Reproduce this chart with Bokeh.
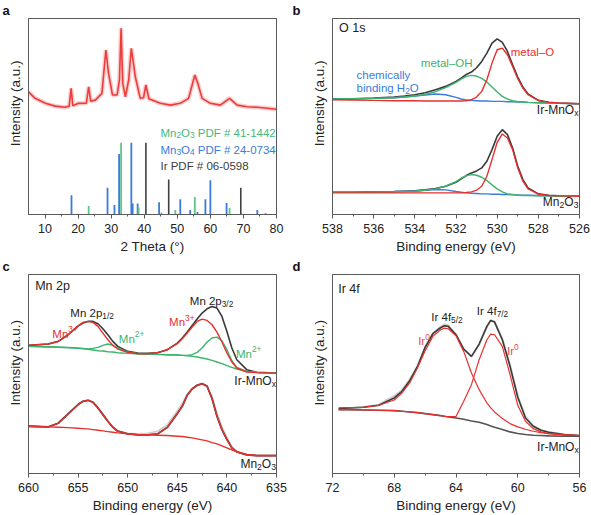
import re
from bokeh.plotting import figure
from bokeh.models import Range1d, FixedTicker, Label, LinearAxis
from bokeh.layouts import column, row
from bokeh.embed import file_html
from bokeh.resources import INLINE

# ---------------- data: panel a (XRD) ----------------
xrd_2theta = [5.0, 7.0, 10.1, 13.1, 16.1, 17.3, 17.9, 18.4, 20.1, 22.5, 23.2, 23.8, 25.2, 27.2,
              28.4, 29.2, 30.4, 31.8, 32.5, 33.0, 33.5, 34.3, 35.3, 36.1, 37.3, 38.8, 39.8,
              40.5, 41.4, 44.9, 47.9, 50.9, 53.4, 54.5, 55.3, 56.2, 57.5, 60.0, 63.0, 65.8,
              68.1, 71.1, 74.2, 77.2, 80.0]
xrd_intensity = [61.5, 58.2, 55.7, 54.3, 53.7, 54.3, 63.2, 54.5, 55.7, 55.8, 64.0, 56.8, 57.3, 60.7,
                 82.4, 70.7, 59.9, 59.9, 67.4, 93.3, 65.7, 59.0, 67.4, 83.3, 69.0, 58.2, 58.5,
                 64.9, 58.0, 55.7, 54.8, 55.7, 58.2, 64.9, 69.9, 65.7, 58.2, 55.7, 54.8, 58.2,
                 54.8, 54.0, 53.7, 53.2, 52.7]
mn3o4_pos = [18.0, 28.9, 31.0, 32.4, 36.1, 36.5, 38.0, 44.5, 50.9, 53.9, 56.1, 58.5, 60.0, 64.9, 74.2, 76.7]
mn3o4_h = [9.7, 13.4, 4.7, 30.3, 36.0, 5.5, 5.5, 6.2, 7.7, 2.2, 1.3, 7.7, 17.2, 5.8, 2.2, 0.6]
mn2o3_pos = [23.2, 33.0, 38.3, 45.2, 49.4, 55.3, 65.8]
mn2o3_h = [4.2, 36.0, 3.5, 1.0, 2.2, 8.8, 3.3]
ir_pos = [40.5, 47.4, 69.2]
ir_h = [36.0, 17.5, 13.4]

# ---------------- data: panel b (O 1s) ----------------
b_ev = [538, 537, 536, 535, 534.5, 534, 533.5, 533, 532.5, 532, 531.75, 531.5, 531.25, 531,
        530.75, 530.5, 530.25, 530, 529.75, 529.5, 529.25, 529, 528.75, 528.5, 528, 527.5, 527, 526]
b_ir_env = [347, 348, 350, 353, 356, 360, 366, 375, 385, 400, 410, 421, 428, 441, 460, 485, 515, 528,
            517, 490, 450, 413, 383, 362, 343, 337, 335, 333]
b_ir_mo = [345, 344, 343, 342, 342, 342, 341, 341, 341, 341, 341, 342, 345, 353, 370, 405, 455, 495,
           500, 480, 445, 408, 380, 360, 343, 337, 335, 333]
b_ir_moh = [347, 348, 349, 351, 353, 356, 361, 369, 381, 397, 407, 415, 418, 416, 409, 398, 383, 368,
            355, 347, 342, 339, 338, 337, 336, 335, 334, 333]
b_ir_h2o = [347, 348, 349, 351, 353, 356, 359, 362, 360, 352, 347, 344, 343, 342, 341, 341, 340, 340,
            340, 339, 339, 338, 338, 337, 336, 335, 334, 333]
b_mn_env = [67, 67, 68, 69, 70, 71, 74, 78, 85, 97, 107, 117, 125, 131, 140, 160, 195, 235, 255, 240,
            200, 145, 105, 80, 62, 58, 56, 55]
b_mn_mo = [65, 65, 65, 65, 65, 65, 65, 65, 65, 65, 65, 66, 68, 73, 85, 115, 165, 217, 242, 230, 195,
           140, 100, 77, 61, 57, 56, 55]
b_mn_moh = [67, 67, 67, 68, 69, 70, 73, 77, 85, 99, 109, 117, 120, 118, 112, 102, 89, 77, 68, 62, 60,
            58, 57, 57, 56, 56, 55, 55]
b_mn_h2o = [67, 67, 68, 69, 70, 71, 73, 75, 74, 69, 67, 65, 64, 63, 62, 62, 61, 61, 60, 60, 59, 59,
            58, 58, 57, 56, 56, 55]

# ---------------- data: panel c (Mn 2p) ----------------
c_ev = [660, 658, 657, 656, 655, 654.5, 654, 653.5, 653, 652.5, 652, 651.5, 651, 650, 649, 648, 647,
        646, 645, 644.5, 644, 643.5, 643, 642.5, 642, 641.5, 641, 640.5, 640, 639.5, 639, 638, 637, 635]
c_ir_env = [384, 388, 396, 416, 442, 451, 456, 456, 449, 434, 416, 396, 381, 366, 361, 360, 362, 371,
            391, 406, 424, 444, 463, 481, 494, 501, 496, 471, 426, 376, 341, 311, 303, 301]
c_ir_mn3 = [384, 388, 396, 416, 443, 453, 456, 453, 441, 421, 401, 384, 373, 363, 359, 359, 362, 371,
            389, 404, 421, 439, 456, 463, 459, 446, 424, 394, 361, 334, 316, 304, 302, 301]
c_ir_mn2 = [381, 380, 379, 378, 376, 375, 373, 375, 378, 384, 388, 384, 376, 364, 359, 358, 357, 356,
            355, 354, 354, 356, 363, 376, 394, 406, 409, 398, 371, 338, 318, 306, 303, 301]
c_ir_bg = [381, 379, 378, 377, 375, 374, 372, 370, 368, 367, 365, 364, 362, 360, 359, 358, 357, 356,
           355, 354, 353, 351, 349, 346, 343, 339, 334, 329, 323, 318, 313, 306, 303, 301]
c_mn_env = [141, 139, 150, 178, 206, 216, 219, 213, 196, 176, 156, 138, 126, 118, 115, 115, 118, 138,
            179, 201, 234, 253, 264, 269, 262, 224, 171, 131, 101, 76, 64, 55, 53, 53]
c_mn_raw = [141, 139, 151, 180, 207, 217, 220, 214, 198, 178, 157, 139, 127, 120, 118, 120, 126, 146,
            188, 210, 238, 255, 265, 268, 258, 232, 180, 140, 108, 80, 66, 56, 53, 53]
c_mn_bg = [141, 139, 138, 137, 135, 134, 133, 131, 129, 127, 125, 123, 121, 118, 116, 115, 114, 113,
           111, 110, 108, 106, 103, 100, 97, 92, 88, 82, 76, 70, 64, 56, 53, 53]

# ---------------- data: panel d (Ir 4f) ----------------
d_ev = [71.6, 71, 70, 69, 68, 67.5, 67, 66.5, 66, 65.5, 65, 64.75, 64.5, 64, 63.5, 63, 62.5, 62,
        61.75, 61.5, 61, 60.5, 60, 59.5, 59, 58.5, 58, 57, 56]
d_env = [194, 196, 198, 204, 226, 246, 278, 320, 378, 419, 437, 443, 441, 416, 373, 351, 388, 441,
         459, 454, 401, 321, 228, 166, 141, 129, 123, 116, 113]
d_raw = [192, 195, 199, 206, 232, 250, 281, 322, 378, 420, 440, 447, 444, 417, 372, 350, 386, 440,
         460, 455, 404, 325, 232, 170, 143, 130, 124, 116, 112]
d_ir52 = [196, 197, 198, 204, 220, 241, 271, 316, 368, 411, 431, 436, 434, 413, 366, 301, 251, 211,
          196, 184, 164, 149, 139, 132, 126, 122, 119, 115, 113]
d_ir72 = [191, 191, 190, 189, 188, 186, 184, 182, 179, 176, 173, 171, 170, 170, 216, 266, 341, 401,
          418, 416, 381, 296, 204, 156, 134, 124, 119, 115, 113]
d_bg = [191, 191, 190, 189, 188, 186, 184, 182, 179, 176, 173, 171, 169, 166, 162, 157, 153, 146,
        142, 138, 131, 124, 119, 116, 114, 113, 112, 111, 111]

# ---------------- style ----------------
FONT = "Liberation Sans"
RED = "#e8302e"
GREEN = "#3cb46c"
BLUE = "#3b7bdc"
DARK = "#3a3a3a"
RAW = "#cfcfcf"
FRAME = "#5a5a5a"
TXT = "#222222"
NB = "\u00a0"

AW = {' ': 278, '-': 333, '\u2013': 556, '/': 278, '+': 584, '#': 556, '(': 333, ')': 333, '.': 278}
for _d in '0123456789':
    AW[_d] = 556
AW.update({'A': 667, 'D': 722, 'F': 611, 'H': 722, 'I': 278, 'M': 833, 'O': 778, 'P': 667, 'T': 611,
           'a': 556, 'b': 556, 'c': 500, 'd': 556, 'e': 556, 'f': 278, 'g': 556, 'h': 556, 'i': 222,
           'l': 222, 'm': 833, 'n': 556, 'o': 556, 'p': 556, 'r': 333, 's': 500, 't': 278, 'x': 500,
           'y': 500})


def tw(s, size):
    return sum(AW.get(ch, 556) for ch in s) * size / 1000.0


def rich(p, x, y, markup, size, color, align="left"):
    parts = []
    for sub, sup, nor in re.findall(r'_\{([^}]*)\}|\^\{([^}]*)\}|([^_^]+)', markup):
        if sub:
            parts.append((sub, 0.72 * size, -0.24 * size))
        elif sup:
            parts.append((sup, 0.72 * size, 0.40 * size))
        else:
            parts.append((nor, size, 0.0))
    total = sum(tw(t, s) for t, s, _ in parts)
    off = -total if align == "right" else 0.0
    for t, s, dy in parts:
        lead = len(t) - len(t.lstrip(' '))
        off += lead * tw(' ', s)
        core = t.strip(' ')
        if core:
            p.add_layout(Label(x=x, y=y, text=core, x_offset=off, y_offset=dy, text_font=FONT,
                               text_font_size=f"{s:.1f}px", text_color=color,
                               text_baseline="alphabetic", text_align="left"))
        off += tw(t.lstrip(' '), s)


def make_fig(w, h, xr, yr, bl, br, bt, bb, ticks, minor, xlabel, letter, ypad):
    p = figure(width=w, height=h, x_range=Range1d(*xr), y_range=Range1d(*yr),
               output_backend="svg", toolbar_location=None,
               min_border_left=bl, min_border_right=br, min_border_top=bt, min_border_bottom=bb)
    p.xgrid.visible = False
    p.ygrid.visible = False
    p.outline_line_color = FRAME
    p.outline_line_width = 1
    p.outline_line_alpha = 1
    p.title.text = letter
    p.title.text_font = FONT
    p.title.text_font_size = "13px"
    p.title.text_font_style = "bold"
    p.title.text_color = "#111111"
    p.title.align = "left"
    p.title.offset = -bl + 2
    p.title.standoff = 1
    xa = p.xaxis[0]
    xa.ticker = FixedTicker(ticks=ticks, minor_ticks=minor)
    xa.axis_label = xlabel
    xa.axis_line_color = FRAME
    xa.major_tick_line_color = FRAME
    xa.minor_tick_line_color = FRAME
    xa.major_tick_out = 4
    xa.major_tick_in = 0
    xa.minor_tick_out = 2
    xa.minor_tick_in = 0
    xa.major_label_text_font = FONT
    xa.major_label_text_font_size = "12.5px"
    xa.major_label_text_color = TXT
    xa.major_label_standoff = 5
    xa.axis_label_text_font = FONT
    xa.axis_label_text_font_size = "13.5px"
    xa.axis_label_text_font_style = "normal"
    xa.axis_label_text_color = TXT
    xa.axis_label_standoff = 3
    ya = p.yaxis[0]
    ya.ticker = FixedTicker(ticks=[])
    ya.axis_label = NB * ypad + "Intensity (a.u.)"
    ya.axis_line_color = FRAME
    ya.major_tick_out = 0
    ya.major_tick_in = 0
    ya.minor_tick_out = 0
    ya.minor_tick_in = 0
    ya.axis_label_text_font = FONT
    ya.axis_label_text_font_size = "13.5px"
    ya.axis_label_text_font_style = "normal"
    ya.axis_label_text_color = TXT
    ya.axis_label_standoff = 6
    for side in ("right", "above"):
        ax = LinearAxis(ticker=FixedTicker(ticks=[]), axis_line_color=FRAME,
                        major_tick_out=0, major_tick_in=0, minor_tick_out=0, minor_tick_in=0,
                        major_label_standoff=0, axis_label_standoff=0)
        p.add_layout(ax, side)
    return p


# ---------------- panel a ----------------
pa = make_fig(290, 256, (5, 80), (0, 98.2), 28, 14, 15, 42,
              [10, 20, 30, 40, 50, 60, 70, 80], [15, 25, 35, 45, 55, 65, 75], "2 Theta (\u00b0)", "a", 7)
pa.line(xrd_2theta, xrd_intensity, line_color="#f26060", line_width=4.5, line_alpha=0.3)
pa.line(xrd_2theta, xrd_intensity, line_color="#ea2c2c", line_width=1.6, line_alpha=0.9)
pa.segment(x0=mn3o4_pos, y0=[0] * len(mn3o4_pos), x1=mn3o4_pos, y1=mn3o4_h, line_color=BLUE, line_width=1.8)
pa.segment(x0=mn2o3_pos, y0=[0] * len(mn2o3_pos), x1=mn2o3_pos, y1=mn2o3_h, line_color="#5fc48c", line_width=1.8)
pa.segment(x0=ir_pos, y0=[0] * len(ir_pos), x1=ir_pos, y1=ir_h, line_color="#404040", line_width=1.6)
rich(pa, 44.9, 41.0, "Mn_{2}O_{3} PDF # 41-1442", 11.5, "#45b87a")
rich(pa, 44.9, 32.5, "Mn_{3}O_{4} PDF # 24-0734", 11.5, BLUE)
rich(pa, 44.9, 24.4, "Ir PDF # 06-0598", 11.5, "#3c3c3c")

# ---------------- panel b ----------------
pb = make_fig(301, 256, (538, 526), (0, 589), 42, 12, 15, 42,
              [538, 536, 534, 532, 530, 528, 526], [537, 535, 533, 531, 529, 527], "Binding energy (eV)", "b", 7)
for env, mo, moh, h2o in ((b_ir_env, b_ir_mo, b_ir_moh, b_ir_h2o), (b_mn_env, b_mn_mo, b_mn_moh, b_mn_h2o)):
    pb.line(b_ev, env, line_color=DARK, line_width=1.6)
    pb.line(b_ev, h2o, line_color=BLUE, line_width=1.4)
    pb.line(b_ev, moh, line_color=GREEN, line_width=1.4)
    pb.line(b_ev, mo, line_color=RED, line_width=1.4)
rich(pb, 537.68, 561, "O 1s", 12.5, TXT)
rich(pb, 529.34, 487, "metal\u2013O", 11.5, RED)
rich(pb, 533.71, 455, "metal\u2013OH", 11.5, GREEN)
rich(pb, 536.83, 420, "chemically", 11.5, BLUE)
rich(pb, 536.83, 380, "binding H_{2}O", 11.5, BLUE)
rich(pb, 526.05, 315, "Ir-MnO_{x}", 12, TXT, "right")
rich(pb, 526.05, 38, "Mn_{2}O_{3}", 12, TXT, "right")

# ---------------- panel c ----------------
pc = make_fig(290, 259, (660, 635), (-1, 597), 28, 14, 14, 41,
              [660, 655, 650, 645, 640, 635], [657.5, 652.5, 647.5, 642.5, 637.5], "Binding energy (eV)", "c", 6)
pc.line(c_ev, c_ir_env, line_color=DARK, line_width=1.6)
pc.line(c_ev, c_ir_bg, line_color=GREEN, line_width=1.4)
pc.line(c_ev, c_ir_mn2, line_color=GREEN, line_width=1.4)
pc.line(c_ev, c_ir_mn3, line_color=RED, line_width=1.4)
pc.line(c_ev, c_mn_raw, line_color=RAW, line_width=1.6)
pc.line(c_ev, c_mn_env, line_color=DARK, line_width=1.8)
pc.line(c_ev, c_mn_bg, line_color=RED, line_width=1.4)
pc.line(c_ev, c_mn_env, line_color=RED, line_width=1.3)
rich(pc, 659.33, 562, "Mn 2p", 12.5, TXT)
rich(pc, 655.78, 480, "Mn 2p_{1/2}", 11.5, TXT)
rich(pc, 657.6, 419, "Mn^{3+}", 11.5, RED)
rich(pc, 650.89, 403, "Mn^{2+}", 11.5, GREEN)
rich(pc, 643.74, 518, "Mn 2p_{3/2}", 11.5, TXT)
rich(pc, 645.83, 453, "Mn^{3+}", 11.5, RED)
rich(pc, 639.08, 358, "Mn^{2+}", 11.5, GREEN)
rich(pc, 635.05, 278, "Ir-MnO_{x}", 12, TXT, "right")
rich(pc, 635.05, 28, "Mn_{2}O_{3}", 12, TXT, "right")

# ---------------- panel d ----------------
pd_ = make_fig(301, 259, (72, 56), (-1, 597), 42, 12, 14, 41,
               [72, 68, 64, 60, 56], [70, 66, 62, 58], "Binding energy (eV)", "d", 6)
pd_.line(d_ev, d_raw, line_color=RAW, line_width=2)
pd_.line(d_ev, d_bg, line_color="#555555", line_width=1.6)
pd_.line(d_ev, d_env, line_color=DARK, line_width=1.6)
pd_.line(d_ev, d_ir52, line_color=RED, line_width=1.2)
pd_.line(d_ev, d_ir72, line_color=RED, line_width=1.2)
rich(pd_, 71.63, 552, "Ir 4f", 12.5, TXT)
rich(pd_, 65.6, 470, "Ir 4f_{5/2}", 11.5, TXT)
rich(pd_, 62.65, 488, "Ir 4f_{7/2}", 11.5, TXT)
rich(pd_, 66.45, 396, "Ir^{0}", 11.5, "#ee4a4a")
rich(pd_, 60.7, 366, "Ir^{0}", 11.5, "#ee4a4a")
rich(pd_, 56.05, 78, "Ir-MnO_{x}", 12, TXT, "right")

layout = column(row(pa, pb), row(pc, pd_))
open("out.html", "w").write(file_html(layout, INLINE))
